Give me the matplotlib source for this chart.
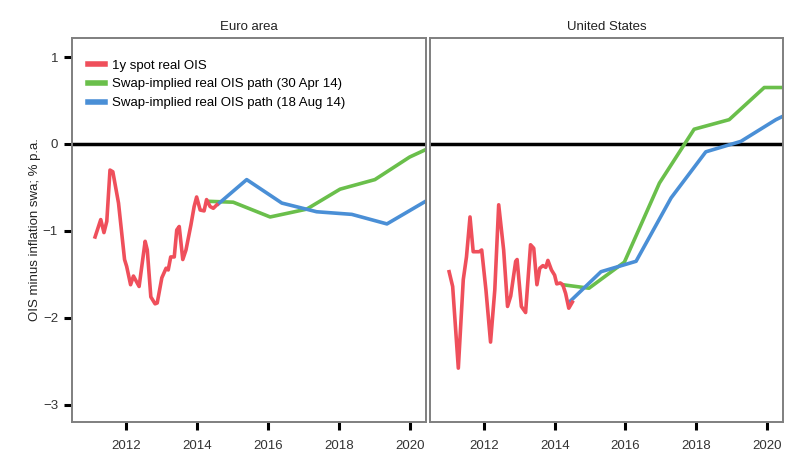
import matplotlib
matplotlib.use("Agg")
import matplotlib.pyplot as plt

plt.rcParams["font.family"] = ["Liberation Sans", "DejaVu Sans"]

# ── Data ──────────────────────────────────────────────────────────────────────

ea_spot_t = [2011.13, 2011.29, 2011.38, 2011.46, 2011.55, 2011.63, 2011.79,
             2011.96, 2012.02, 2012.13, 2012.21, 2012.37, 2012.54, 2012.60,
             2012.70, 2012.82, 2012.88, 2013.01, 2013.13, 2013.19, 2013.26,
             2013.36, 2013.43, 2013.50, 2013.60, 2013.69, 2013.83, 2013.92,
             2013.99, 2014.09, 2014.20, 2014.27, 2014.37, 2014.46, 2014.56]
ea_spot_v = [-1.07, -0.87, -1.02, -0.89, -0.30, -0.32, -0.68,
             -1.33, -1.41, -1.62, -1.52, -1.64, -1.12, -1.22,
             -1.76, -1.84, -1.83, -1.54, -1.43, -1.45, -1.30,
             -1.30, -0.99, -0.95, -1.33, -1.22, -0.93, -0.72,
             -0.61, -0.76, -0.77, -0.64, -0.72, -0.74, -0.70]

ea_apr_t = [2014.33, 2015.02, 2016.06, 2017.09, 2018.03, 2019.01, 2019.99, 2020.52]
ea_apr_v = [-0.66, -0.67, -0.84, -0.75, -0.52, -0.41, -0.15, -0.05]

ea_aug_t = [2014.60, 2015.40, 2016.39, 2017.37, 2018.36, 2019.35, 2020.52]
ea_aug_v = [-0.69, -0.41, -0.68, -0.78, -0.81, -0.92, -0.64]

us_spot_t = [2011.02, 2011.12, 2011.28, 2011.42, 2011.51, 2011.61, 2011.70,
             2011.87, 2011.94, 2012.06, 2012.19, 2012.31, 2012.42, 2012.56,
             2012.67, 2012.76, 2012.90, 2012.94, 2013.06, 2013.18, 2013.32,
             2013.41, 2013.50, 2013.58, 2013.67, 2013.75, 2013.81, 2013.91,
             2014.00, 2014.06, 2014.16, 2014.23, 2014.31, 2014.40, 2014.50]
us_spot_v = [-1.47, -1.64, -2.58, -1.56, -1.30, -0.84, -1.24,
             -1.24, -1.22, -1.68, -2.28, -1.68, -0.70, -1.22,
             -1.87, -1.75, -1.35, -1.33, -1.87, -1.94, -1.16,
             -1.20, -1.62, -1.43, -1.40, -1.42, -1.34, -1.45,
             -1.51, -1.61, -1.60, -1.62, -1.72, -1.89, -1.82]

us_apr_t = [2014.23, 2014.97, 2015.97, 2016.96, 2017.94, 2018.93, 2019.92, 2020.50]
us_apr_v = [-1.62, -1.66, -1.36, -0.45, 0.17, 0.28, 0.65, 0.65]

us_aug_t = [2014.44, 2015.31, 2016.30, 2017.29, 2018.27, 2019.26, 2020.25, 2020.50]
us_aug_v = [-1.81, -1.47, -1.35, -0.62, -0.09, 0.03, 0.28, 0.33]

panel_titles = ["Euro area", "United States"]
x_ticks = [2012, 2014, 2016, 2018, 2020]
y_ticks = [1, 0, -1, -2, -3]

RED = "#ef4f5b"
GREEN = "#6abf4b"
BLUE = "#4a8fd6"

# ── Figure ────────────────────────────────────────────────────────────────────

W, H = 798, 471
fig = plt.figure(figsize=(W / 100, H / 100), dpi=100)
ax1 = fig.add_axes([72 / W, 49 / H, 354 / W, 384 / H])
ax2 = fig.add_axes([430 / W, 49 / H, 353 / W, 384 / H])

series = [
    (ax1, ea_spot_t, ea_spot_v, ea_apr_t, ea_apr_v, ea_aug_t, ea_aug_v),
    (ax2, us_spot_t, us_spot_v, us_apr_t, us_apr_v, us_aug_t, us_aug_v),
]

for i, (ax, st, sv, at, av, bt, bv) in enumerate(series):
    ax.axhline(0, color="black", linewidth=2.5, zorder=1)
    ax.plot(st, sv, color=RED, linewidth=2.6, label="1y spot real OIS", zorder=3)
    ax.plot(at, av, color=GREEN, linewidth=2.6,
            label="Swap-implied real OIS path (30 Apr 14)", zorder=2)
    ax.plot(bt, bv, color=BLUE, linewidth=2.6,
            label="Swap-implied real OIS path (18 Aug 14)", zorder=2)
    ax.set_xlim(2010.48, 2020.45)
    ax.set_ylim(-3.2, 1.22)
    ax.set_xticks(x_ticks)
    ax.set_yticks(y_ticks)
    ax.set_yticklabels(["1", "0", "\u22121", "\u22122", "\u22123"])
    for sp in ax.spines.values():
        sp.set_color("#7f7f7f")
        sp.set_linewidth(1.4)
    ax.tick_params(direction="out", length=6, width=2.2, color="black",
                   labelsize=9.5, labelcolor="#333333")
    ax.tick_params(axis="x", pad=7)
    ax.tick_params(axis="y", pad=4)
    ax.text(0.5, 1.014, panel_titles[i], transform=ax.transAxes,
            ha="center", va="bottom", fontsize=9.5, color="#222222")
    if i == 1:
        ax.tick_params(axis="y", left=False, labelleft=False)

ax1.set_ylabel("OIS minus inflation swa; % p.a.", fontsize=9.5,
               color="#222222", labelpad=1)

leg = ax1.legend(loc="upper left", frameon=False, fontsize=9.5,
                 handlelength=1.3, handletextpad=0.5, labelspacing=0.5,
                 bbox_to_anchor=(0.03, 0.958), borderaxespad=0.0)
for line in leg.get_lines():
    line.set_linewidth(4)

fig.savefig("out.png", dpi=100)
